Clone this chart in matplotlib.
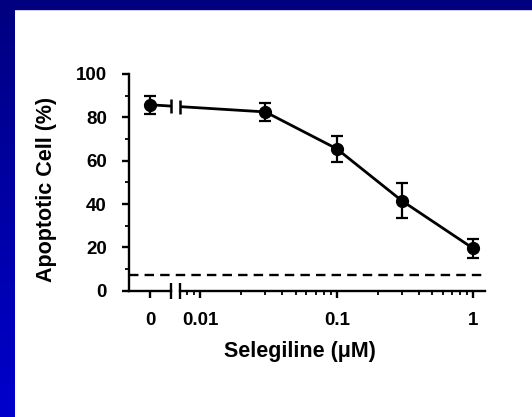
import numpy as np
import matplotlib
matplotlib.use('Agg')
import matplotlib.pyplot as plt
from matplotlib.patches import Rectangle
from matplotlib.ticker import MultipleLocator, LogLocator, NullFormatter, FixedLocator

# data
conc = [0.03, 0.1, 0.3, 1.0]
apoptotic = [82.5, 65.5, 41.5, 19.5]
apoptotic_err = [4.0, 6.0, 8.0, 4.5]
control = [0]
control_value = [85.8]
control_err = [4.2]
baseline = 7.4

yticks = [0, 20, 40, 60, 80, 100]
xtick_vals = [0.01, 0.1, 1]
xtick_labels = ['0.01', '0.1', '1']

plt.rcParams['font.family'] = ['Liberation Sans', 'DejaVu Sans']
plt.rcParams['font.weight'] = 'bold'

W, H = 532, 417
fig = plt.figure(figsize=(W / 100, H / 100), dpi=100, facecolor='white')

# slide frame: navy top bar, gradient left bar
fig.patches.append(Rectangle((0, 1 - 8.5 / H), 1, 8.5 / H, transform=fig.transFigure,
                             color='#000080', zorder=0))
bg = fig.add_axes([0, 0, 15 / W, 1])
grad = np.linspace(0, 1, 256).reshape(-1, 1)
cmap = matplotlib.colors.LinearSegmentedColormap.from_list('slide', ['#000080', '#0000CC'])
bg.imshow(grad, aspect='auto', cmap=cmap, extent=(0, 1, 0, 1), origin='upper')
bg.axis('off')

y0_px, y100_px = 290.7, 74
bottom = 1 - y0_px / H
height = (y0_px - y100_px) / H
ax1 = fig.add_axes([129 / W, bottom, (171 - 129) / W, height])
ax2 = fig.add_axes([180 / W, bottom, (485 - 180) / W, height])

lw = 1.7
for ax in (ax1, ax2):
    ax.set_ylim(0, 100)
    ax.patch.set_alpha(0)
    for s in ('top', 'right'):
        ax.spines[s].set_visible(False)
    ax.spines['bottom'].set_linewidth(lw)
    ax.spines['left'].set_linewidth(lw)
    ax.tick_params(which='major', direction='out', length=5, width=lw, labelsize=13.5)
    ax.tick_params(which='minor', direction='out', length=3, width=1.3)
    ax.tick_params(axis='x', pad=10.5)
    ax.tick_params(axis='y', pad=11)

# left segment (zero dose)
ax1.set_xlim(-1, 1)
ax1.set_xticks(control)
ax1.set_xticklabels(['0'])
ax1.set_yticks(yticks)
ax1.yaxis.set_minor_locator(MultipleLocator(10))

# right segment (log dose)
ax2.set_xscale('log')
ax2.set_xlim(0.0071, 1.22)
ax2.spines['left'].set_visible(False)
ax2.tick_params(axis='y', which='both', left=False, labelleft=False)
ax2.xaxis.set_major_locator(FixedLocator(xtick_vals))
ax2.set_xticklabels(xtick_labels)
ax2.xaxis.set_minor_locator(LogLocator(base=10, subs=np.arange(2, 10)))
ax2.xaxis.set_minor_formatter(NullFormatter())

ekw = dict(fmt='o', color='black', ms=8.5, elinewidth=1.6, capsize=4.5, capthick=1.6, zorder=4)
ax1.errorbar(control, control_value, yerr=control_err, **ekw)
ax2.errorbar(conc, apoptotic, yerr=apoptotic_err, **ekw)
ax2.plot(conc, apoptotic, color='black', lw=2.0, zorder=3)

# line across the break: same straight segment drawn in both axes, each clipped
p0 = ax1.transData.transform((control[0], control_value[0]))
p1 = ax2.transData.transform((conc[0], apoptotic[0]))
q1 = ax1.transData.inverted().transform(p1)
q0 = ax2.transData.inverted().transform(p0)
ax1.plot([control[0], q1[0]], [control_value[0], q1[1]], color='black', lw=2.0, zorder=3)
ax2.plot([q0[0], conc[0]], [q0[1], apoptotic[0]], color='black', lw=2.0, zorder=3)


def y_on_segment(xd):
    t = (xd - p0[0]) / (p1[0] - p0[0])
    return p0[1] + t * (p1[1] - p0[1])


for ax, ex in ((ax1, 1), (ax2, 0)):
    xd = ax.transAxes.transform((ex, 0))[0]
    d = ax.transData.inverted().transform((xd, y_on_segment(xd)))
    ax.plot([d[0]], [d[1]], marker='|', ms=10, mew=1.8, color='black', clip_on=False, zorder=5)
    # axis break marks
    ax.plot([ex], [0], marker='|', ms=12, mew=1.7, color='black',
            transform=ax.transAxes, clip_on=False, zorder=5)

# dashed baseline running under both segments
x_end = (ax2.get_position().x1 - ax1.get_position().x0) / ax1.get_position().width
ax1.axhline(baseline, xmin=0, xmax=x_end, color='black', lw=1.7,
            dashes=(4.0, 2.6), clip_on=False)

fig.text(47 / W, 1 - 189 / H, 'Apoptotic Cell (%)', rotation=90, ha='center', va='center',
         fontsize=15.5, fontweight='bold')
fig.text(300 / W, 1 - 352 / H, 'Selegiline (\u03bcM)', ha='center', va='center',
         fontsize=15.5, fontweight='bold')

fig.savefig('out.png', dpi=100, facecolor='white')
